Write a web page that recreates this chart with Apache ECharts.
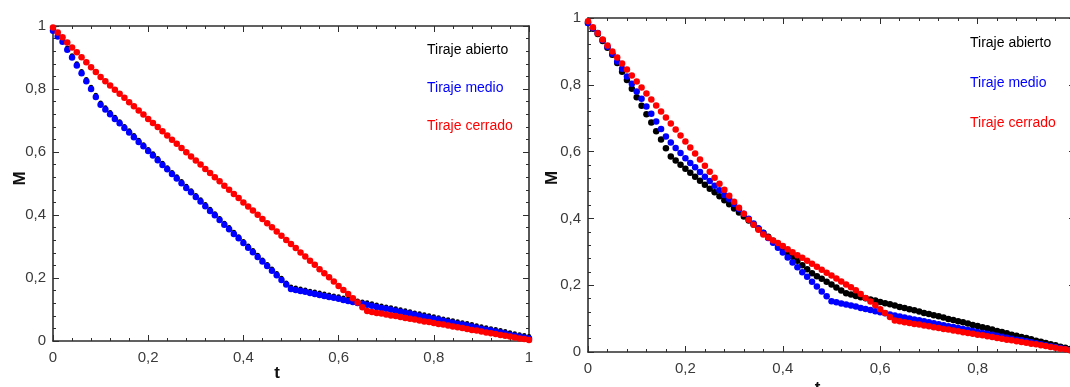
<!DOCTYPE html>
<html><head><meta charset="utf-8">
<script src="https://cdn.jsdelivr.net/npm/echarts@6/dist/echarts.min.js"></script>
<style>html,body{margin:0;padding:0;background:#fff}#c{width:1070px;height:387px}</style>
</head><body><div id="c"></div>
<script>
// time values (t)
const tVals = [0,0.01,0.02,0.03,0.04,0.05,0.06,0.07,0.08,0.09,
0.10,0.11,0.12,0.13,0.14,0.15,0.16,0.17,0.18,0.19,
0.20,0.21,0.22,0.23,0.24,0.25,0.26,0.27,0.28,0.29,
0.30,0.31,0.32,0.33,0.34,0.35,0.36,0.37,0.38,0.39,
0.40,0.41,0.42,0.43,0.44,0.45,0.46,0.47,0.48,0.49,
0.50,0.51,0.52,0.53,0.54,0.55,0.56,0.57,0.58,0.59,
0.60,0.61,0.62,0.63,0.64,0.65,0.66,0.67,0.68,0.69,
0.70,0.71,0.72,0.73,0.74,0.75,0.76,0.77,0.78,0.79,
0.80,0.81,0.82,0.83,0.84,0.85,0.86,0.87,0.88,0.89,
0.90,0.91,0.92,0.93,0.94,0.95,0.96,0.97,0.98,0.99,1.00];

const seriesNames = ["Tiraje abierto","Tiraje medio","Tiraje cerrado"];
const axisTicks = [0,0.2,0.4,0.6,0.8,1];

// LEFT panel
const leftAbierto = [0.990,0.973,0.956,0.931,0.906,0.881,0.856,0.831,0.806,0.781,
0.756,0.741,0.726,0.711,0.697,0.682,0.668,0.653,0.638,0.624,
0.609,0.595,0.580,0.565,0.551,0.536,0.522,0.507,0.492,0.478,
0.463,0.449,0.434,0.419,0.405,0.390,0.375,0.361,0.346,0.332,
0.317,0.302,0.288,0.273,0.258,0.244,0.229,0.215,0.200,0.185,
0.172,0.169,0.166,0.163,0.159,0.156,0.153,0.150,0.147,0.144,
0.141,0.137,0.134,0.131,0.128,0.125,0.122,0.119,0.115,0.112,
0.109,0.106,0.103,0.100,0.097,0.094,0.090,0.087,0.084,0.081,
0.078,0.075,0.071,0.068,0.065,0.062,0.059,0.056,0.053,0.049,
0.046,0.043,0.040,0.037,0.034,0.031,0.027,0.024,0.021,0.018,0.015];
const leftMedio = [0.985,0.967,0.950,0.925,0.900,0.875,0.850,0.825,0.800,0.775,
0.750,0.735,0.720,0.705,0.691,0.676,0.662,0.647,0.632,0.618,
0.603,0.589,0.574,0.559,0.545,0.530,0.516,0.501,0.486,0.472,
0.457,0.443,0.428,0.413,0.399,0.384,0.369,0.355,0.340,0.326,
0.311,0.296,0.282,0.267,0.252,0.238,0.223,0.209,0.194,0.179,
0.165,0.162,0.159,0.156,0.152,0.149,0.146,0.143,0.140,0.137,
0.134,0.130,0.127,0.124,0.121,0.118,0.115,0.112,0.108,0.105,
0.102,0.099,0.096,0.093,0.090,0.087,0.083,0.080,0.077,0.074,
0.071,0.068,0.064,0.061,0.058,0.055,0.052,0.049,0.046,0.042,
0.039,0.036,0.033,0.030,0.027,0.024,0.020,0.017,0.014,0.011,0.008];
const leftCerrado = [0.995,0.979,0.964,0.948,0.932,0.917,0.901,0.885,0.869,0.854,
0.838,0.825,0.811,0.798,0.785,0.772,0.758,0.745,0.732,0.719,
0.705,0.692,0.679,0.666,0.652,0.639,0.626,0.613,0.599,0.586,
0.573,0.560,0.546,0.533,0.520,0.507,0.493,0.480,0.467,0.454,
0.440,0.427,0.414,0.401,0.387,0.374,0.361,0.348,0.334,0.321,
0.308,0.295,0.281,0.268,0.255,0.242,0.228,0.215,0.202,0.189,
0.175,0.162,0.149,0.136,0.122,0.107,0.095,0.092,0.089,0.087,
0.084,0.081,0.079,0.076,0.073,0.071,0.068,0.065,0.062,0.060,
0.057,0.054,0.052,0.049,0.046,0.044,0.041,0.038,0.035,0.033,
0.030,0.027,0.025,0.022,0.019,0.017,0.014,0.011,0.008,0.006,0.003];

// RIGHT panel
const rightAbierto = [0.985,0.968,0.952,0.931,0.911,0.890,0.865,0.839,0.814,0.788,
0.763,0.737,0.712,0.687,0.661,0.636,0.610,0.585,0.573,0.561,
0.549,0.537,0.525,0.513,0.501,0.489,0.478,0.466,0.454,0.442,
0.430,0.418,0.406,0.394,0.382,0.370,0.357,0.345,0.333,0.321,
0.309,0.297,0.285,0.273,0.260,0.248,0.236,0.227,0.219,0.210,
0.202,0.193,0.184,0.176,0.172,0.168,0.164,0.161,0.157,0.154,
0.150,0.146,0.143,0.139,0.135,0.132,0.128,0.125,0.121,0.117,
0.114,0.110,0.107,0.103,0.099,0.096,0.092,0.089,0.085,0.081,
0.078,0.074,0.071,0.067,0.063,0.060,0.056,0.052,0.049,0.045,
0.042,0.038,0.034,0.031,0.027,0.023,0.020,0.016,0.013,0.009,0.005];
const rightMedio = [0.985,0.970,0.955,0.934,0.914,0.893,0.870,0.848,0.825,0.803,
0.780,0.758,0.735,0.713,0.690,0.668,0.645,0.627,0.611,0.596,
0.580,0.566,0.553,0.539,0.525,0.512,0.498,0.484,0.470,0.457,
0.443,0.428,0.414,0.399,0.385,0.370,0.356,0.341,0.327,0.312,
0.298,0.283,0.268,0.254,0.239,0.225,0.210,0.196,0.181,0.167,
0.152,0.149,0.145,0.142,0.139,0.136,0.132,0.129,0.126,0.122,
0.119,0.116,0.112,0.109,0.106,0.103,0.100,0.097,0.095,0.092,
0.089,0.086,0.083,0.080,0.077,0.075,0.072,0.069,0.066,0.063,
0.060,0.057,0.055,0.052,0.049,0.046,0.043,0.040,0.037,0.035,
0.032,0.029,0.026,0.023,0.020,0.017,0.015,0.012,0.009,0.006,0.003];
const rightCerrado = [0.990,0.972,0.954,0.936,0.918,0.900,0.882,0.864,0.846,0.828,
0.810,0.792,0.774,0.756,0.738,0.720,0.702,0.684,0.666,0.648,
0.630,0.612,0.594,0.576,0.558,0.540,0.522,0.504,0.486,0.468,
0.450,0.432,0.414,0.396,0.381,0.366,0.352,0.343,0.334,0.326,
0.317,0.308,0.299,0.290,0.282,0.273,0.264,0.255,0.246,0.237,
0.229,0.220,0.211,0.202,0.194,0.185,0.174,0.162,0.151,0.140,
0.128,0.117,0.105,0.094,0.092,0.089,0.087,0.084,0.082,0.079,
0.077,0.074,0.072,0.069,0.067,0.064,0.062,0.059,0.057,0.055,
0.052,0.050,0.047,0.045,0.042,0.040,0.037,0.035,0.032,0.030,
0.028,0.025,0.023,0.020,0.018,0.015,0.013,0.010,0.008,0.005,0.003];

const COLORS = ['#000000','#0000ff','#ff0000'];
const FONT = "'Liberation Sans', Arial, Helvetica, sans-serif";
const AXC = '#2e2e2e';

function fmt(v){
  if (Math.abs(v) < 1e-9) return '0';
  if (Math.abs(v-1) < 1e-9) return '1';
  return v.toFixed(1).replace('.', ',');
}
function pairs(ys){ return tVals.map((t,i)=>[t, ys[i]]); }

function makeAxis(dim, gridIndex, position, showLabel, name, nameGap, namePad){
  const a = {
    type:'value', gridIndex, position, min:0, max:1, interval:0.2,
    axisLine:{show:true, onZero:false, lineStyle:{color:AXC, width:1.6}},
    axisTick:{show:true, inside:true, length:6, lineStyle:{color:AXC, width:1}},
    minorTick:{show:true, splitNumber:5, length:3, lineStyle:{color:AXC, width:1}},
    splitLine:{show:false}, minorSplitLine:{show:false},
    axisLabel:{show:showLabel, formatter:fmt, color:'#3a3a3a', fontSize:15, fontFamily:FONT,
      margin: dim==='x' ? 9 : 7, showMinLabel:true, showMaxLabel:true},
  };
  if (name){
    a.name = name; a.nameLocation = 'middle'; a.nameGap = nameGap; a.nameMoveOverlap = false;
    a.nameTextStyle = {fontWeight:'bold', fontSize:17, color:'#111', fontFamily:FONT, padding:namePad};
  }
  return a;
}

function legendFor(left, top, gap){
  return {
    orient:'vertical', left, top, itemGap:gap, itemWidth:0, itemHeight:14, icon:'none',
    selectedMode:false,
    textStyle:{fontSize:14, fontFamily:FONT},
    data: seriesNames.map((n,i)=>({name:n, textStyle:{color:COLORS[i]}}))
  };
}

function sc(name, xi, yi, data, color, size, z){
  return {type:'scatter', name, xAxisIndex:xi, yAxisIndex:yi, data:pairs(data),
    symbol:'circle', symbolSize:size, itemStyle:{color, opacity:1},
    emphasis:{disabled:true}, silent:true, z};
}

const chart = echarts.init(document.getElementById('c'), null, {renderer:'canvas'});
chart.setOption({
  animation:false,
  backgroundColor:'#ffffff',
  grid:[
    {left:53, top:26, width:476, height:315, containLabel:false, outerBoundsMode:'none'},
    {left:588, top:18, width:487, height:334, containLabel:false, outerBoundsMode:'none'}
  ],
  xAxis:[
    makeAxis('x',0,'bottom',true,'t',24,[0,28,0,0]),
    makeAxis('x',0,'top',false),
    makeAxis('x',1,'bottom',true,'t',28,[0,28,0,0]),
    makeAxis('x',1,'top',false)
  ],
  yAxis:[
    makeAxis('y',0,'left',true,'M',24,[0,0,0,10]),
    makeAxis('y',0,'right',false),
    makeAxis('y',1,'left',true,'M',27,[0,0,0,14]),
    makeAxis('y',1,'right',false)
  ],
  legend:[ legendFor(417, 38, 24), legendFor(960, 31, 26) ],
  series:[
    sc(seriesNames[0],0,0,leftAbierto,COLORS[0],4.5,2),
    sc(seriesNames[1],0,0,leftMedio,COLORS[1],6.5,3),
    sc(seriesNames[2],0,0,leftCerrado,COLORS[2],6.5,4),
    sc(seriesNames[0],2,2,rightAbierto,COLORS[0],6.5,2),
    sc(seriesNames[1],2,2,rightMedio,COLORS[1],6.5,3),
    sc(seriesNames[2],2,2,rightCerrado,COLORS[2],6.5,4)
  ]
});
</script></body></html>
